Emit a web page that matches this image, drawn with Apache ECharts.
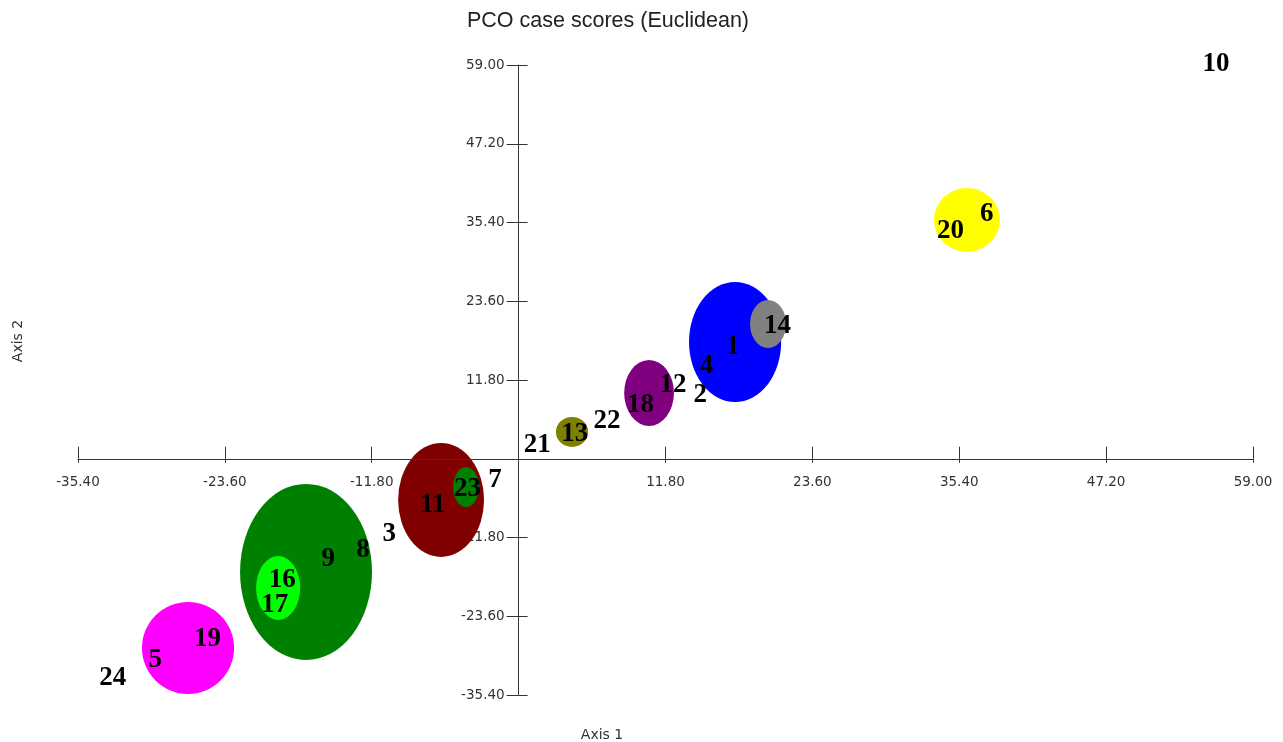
<!DOCTYPE html>
<html><head><meta charset="utf-8">
<script src="https://cdn.jsdelivr.net/npm/echarts@6.0.0/dist/echarts.min.js"></script>
<style>html,body{margin:0;padding:0;background:#fff}#c{width:1283px;height:742px}</style>
</head><body><div id="c"></div>
<script>
// Group ellipses (centre and semi-axes in data units)
const ellipseCX = [-26.56, -17.08, -19.32, -6.23, -4.22, 4.29, 10.48, 17.39, 20.04, 36.02];
const ellipseCY = [-28.35, -16.96, -19.36, -6.17, -4.23, 4.02, 9.86, 17.50, 20.20, 35.78];
const ellipseRX = [3.70, 5.30, 1.77, 3.45, 1.04, 1.29, 2.00, 3.70, 1.45, 2.65];
const ellipseRY = [6.89, 13.19, 4.79, 8.54, 3.00, 2.25, 4.94, 8.99, 3.60, 4.79];
const ellipseColors = ['#ff00ff', '#008000', '#00ff00', '#800000', '#008000', '#808000', '#800080', '#0000ff', '#808080', '#ffff00'];

// Case scores
const caseIds = ['10', '20', '6', '14', '1', '4', '12', '2', '18', '22', '13', '21', '7', '23', '11', '3', '8', '9', '16', '17', '19', '5', '24'];
const caseX = [56.03, 34.7, 37.6, 20.8, 17.2, 15.1, 12.4, 14.6, 9.8, 7.1, 4.5, 1.5, -1.9, -4.1, -6.9, -10.4, -12.5, -15.3, -19.0, -19.6, -25.0, -29.2, -32.6];
const caseY = [59.45, 34.4, 37.0, 20.2, 17.0, 14.2, 11.4, 9.9, 8.4, 6.0, 4.0, 2.4, -2.9, -4.2, -6.6, -11.0, -13.4, -14.7, -17.9, -21.6, -26.7, -29.8, -32.6];

// Axis ticks and their labels (the origin carries no label)
const axisMin = -35.4, axisMax = 59.0, axisStep = 11.8;
const tickValues = [-35.4, -23.6, -11.8, 11.8, 23.6, 35.4, 47.2, 59.0];
const tickLabels = ['-35.40', '-23.60', '-11.80', '11.80', '23.60', '35.40', '47.20', '59.00'];

const axisColor = '#333';
const tickFont = '13.5px "DejaVu Sans", Verdana, sans-serif';

function makeAxis(kind, main) {
  const isX = kind === 'x';
  return {
    type: 'value', min: axisMin, max: axisMax, interval: axisStep,
    position: isX ? 'bottom' : 'left',
    splitLine: {show: false},
    axisLine: {show: main, onZero: true, onZeroAxisIndex: 0, lineStyle: {color: axisColor, width: 1}},
    axisTick: {show: true, inside: !main, length: isX ? (main ? 4 : 12) : (main ? 12 : 9), lineStyle: {color: axisColor, width: 1}},
    axisLabel: {show: false},
    z: 10
  };
}

const chart = echarts.init(document.getElementById('c'), null, {renderer: 'canvas'});
chart.setOption({
  animation: false,
  backgroundColor: '#fff',
  title: {
    text: 'PCO case scores (Euclidean)', left: 462, top: 5,
    textStyle: {fontSize: 21.5, fontWeight: 'normal', color: '#222', fontFamily: 'Liberation Sans, Arial, sans-serif'}
  },
  grid: {left: 78, right: 30, top: 65, bottom: 47, containLabel: false},
  xAxis: [makeAxis('x', true), makeAxis('x', false)],
  yAxis: [makeAxis('y', true), makeAxis('y', false)],
  graphic: [
    {type: 'text', x: 18, y: 341, rotation: Math.PI / 2,
     style: {text: 'Axis 2', fill: '#333', font: '14px "DejaVu Sans", Verdana, sans-serif', align: 'center', verticalAlign: 'middle'}},
    {type: 'text', x: 602, y: 735,
     style: {text: 'Axis 1', fill: '#333', font: '14px "DejaVu Sans", Verdana, sans-serif', align: 'center', verticalAlign: 'middle'}}
  ],
  series: [
    {
      type: 'custom', name: 'xTickLabels', z: 1, clip: false, silent: true,
      data: tickValues.map(v => [v, 0]),
      renderItem: function (params, api) {
        const c = api.coord([api.value(0), api.value(1)]);
        return {type: 'text', x: c[0], y: c[1] + 24,
          style: {text: tickLabels[params.dataIndex], fill: '#333', font: tickFont, align: 'center', verticalAlign: 'middle'}};
      }
    },
    {
      type: 'custom', name: 'yTickLabels', z: 1, clip: false, silent: true,
      data: tickValues.map(v => [0, v]),
      renderItem: function (params, api) {
        const c = api.coord([api.value(0), api.value(1)]);
        return {type: 'text', x: c[0] - 14, y: c[1],
          style: {text: tickLabels[params.dataIndex], fill: '#333', font: tickFont, align: 'right', verticalAlign: 'middle'}};
      }
    },
    {
      type: 'custom', name: 'groups', z: 2, clip: false,
      data: ellipseCX.map((x, i) => [x, ellipseCY[i], ellipseRX[i], ellipseRY[i]]),
      renderItem: function (params, api) {
        const c = api.coord([api.value(0), api.value(1)]);
        const s = api.size([api.value(2), api.value(3)]);
        return {
          type: 'circle', x: c[0], y: c[1], scaleX: 1, scaleY: s[1] / s[0],
          shape: {cx: 0, cy: 0, r: s[0]},
          style: {fill: ellipseColors[params.dataIndex]}
        };
      }
    },
    {
      type: 'custom', name: 'cases', z: 20, clip: false,
      data: caseX.map((x, i) => [x, caseY[i]]),
      renderItem: function (params, api) {
        const c = api.coord([api.value(0), api.value(1)]);
        return {
          type: 'text', x: c[0], y: c[1] + 2,
          style: {
            text: caseIds[params.dataIndex], fill: '#000',
            font: 'bold 27px "Liberation Serif", "Times New Roman", serif',
            align: 'center', verticalAlign: 'middle'
          }
        };
      }
    }
  ]
});
</script>
</body></html>
